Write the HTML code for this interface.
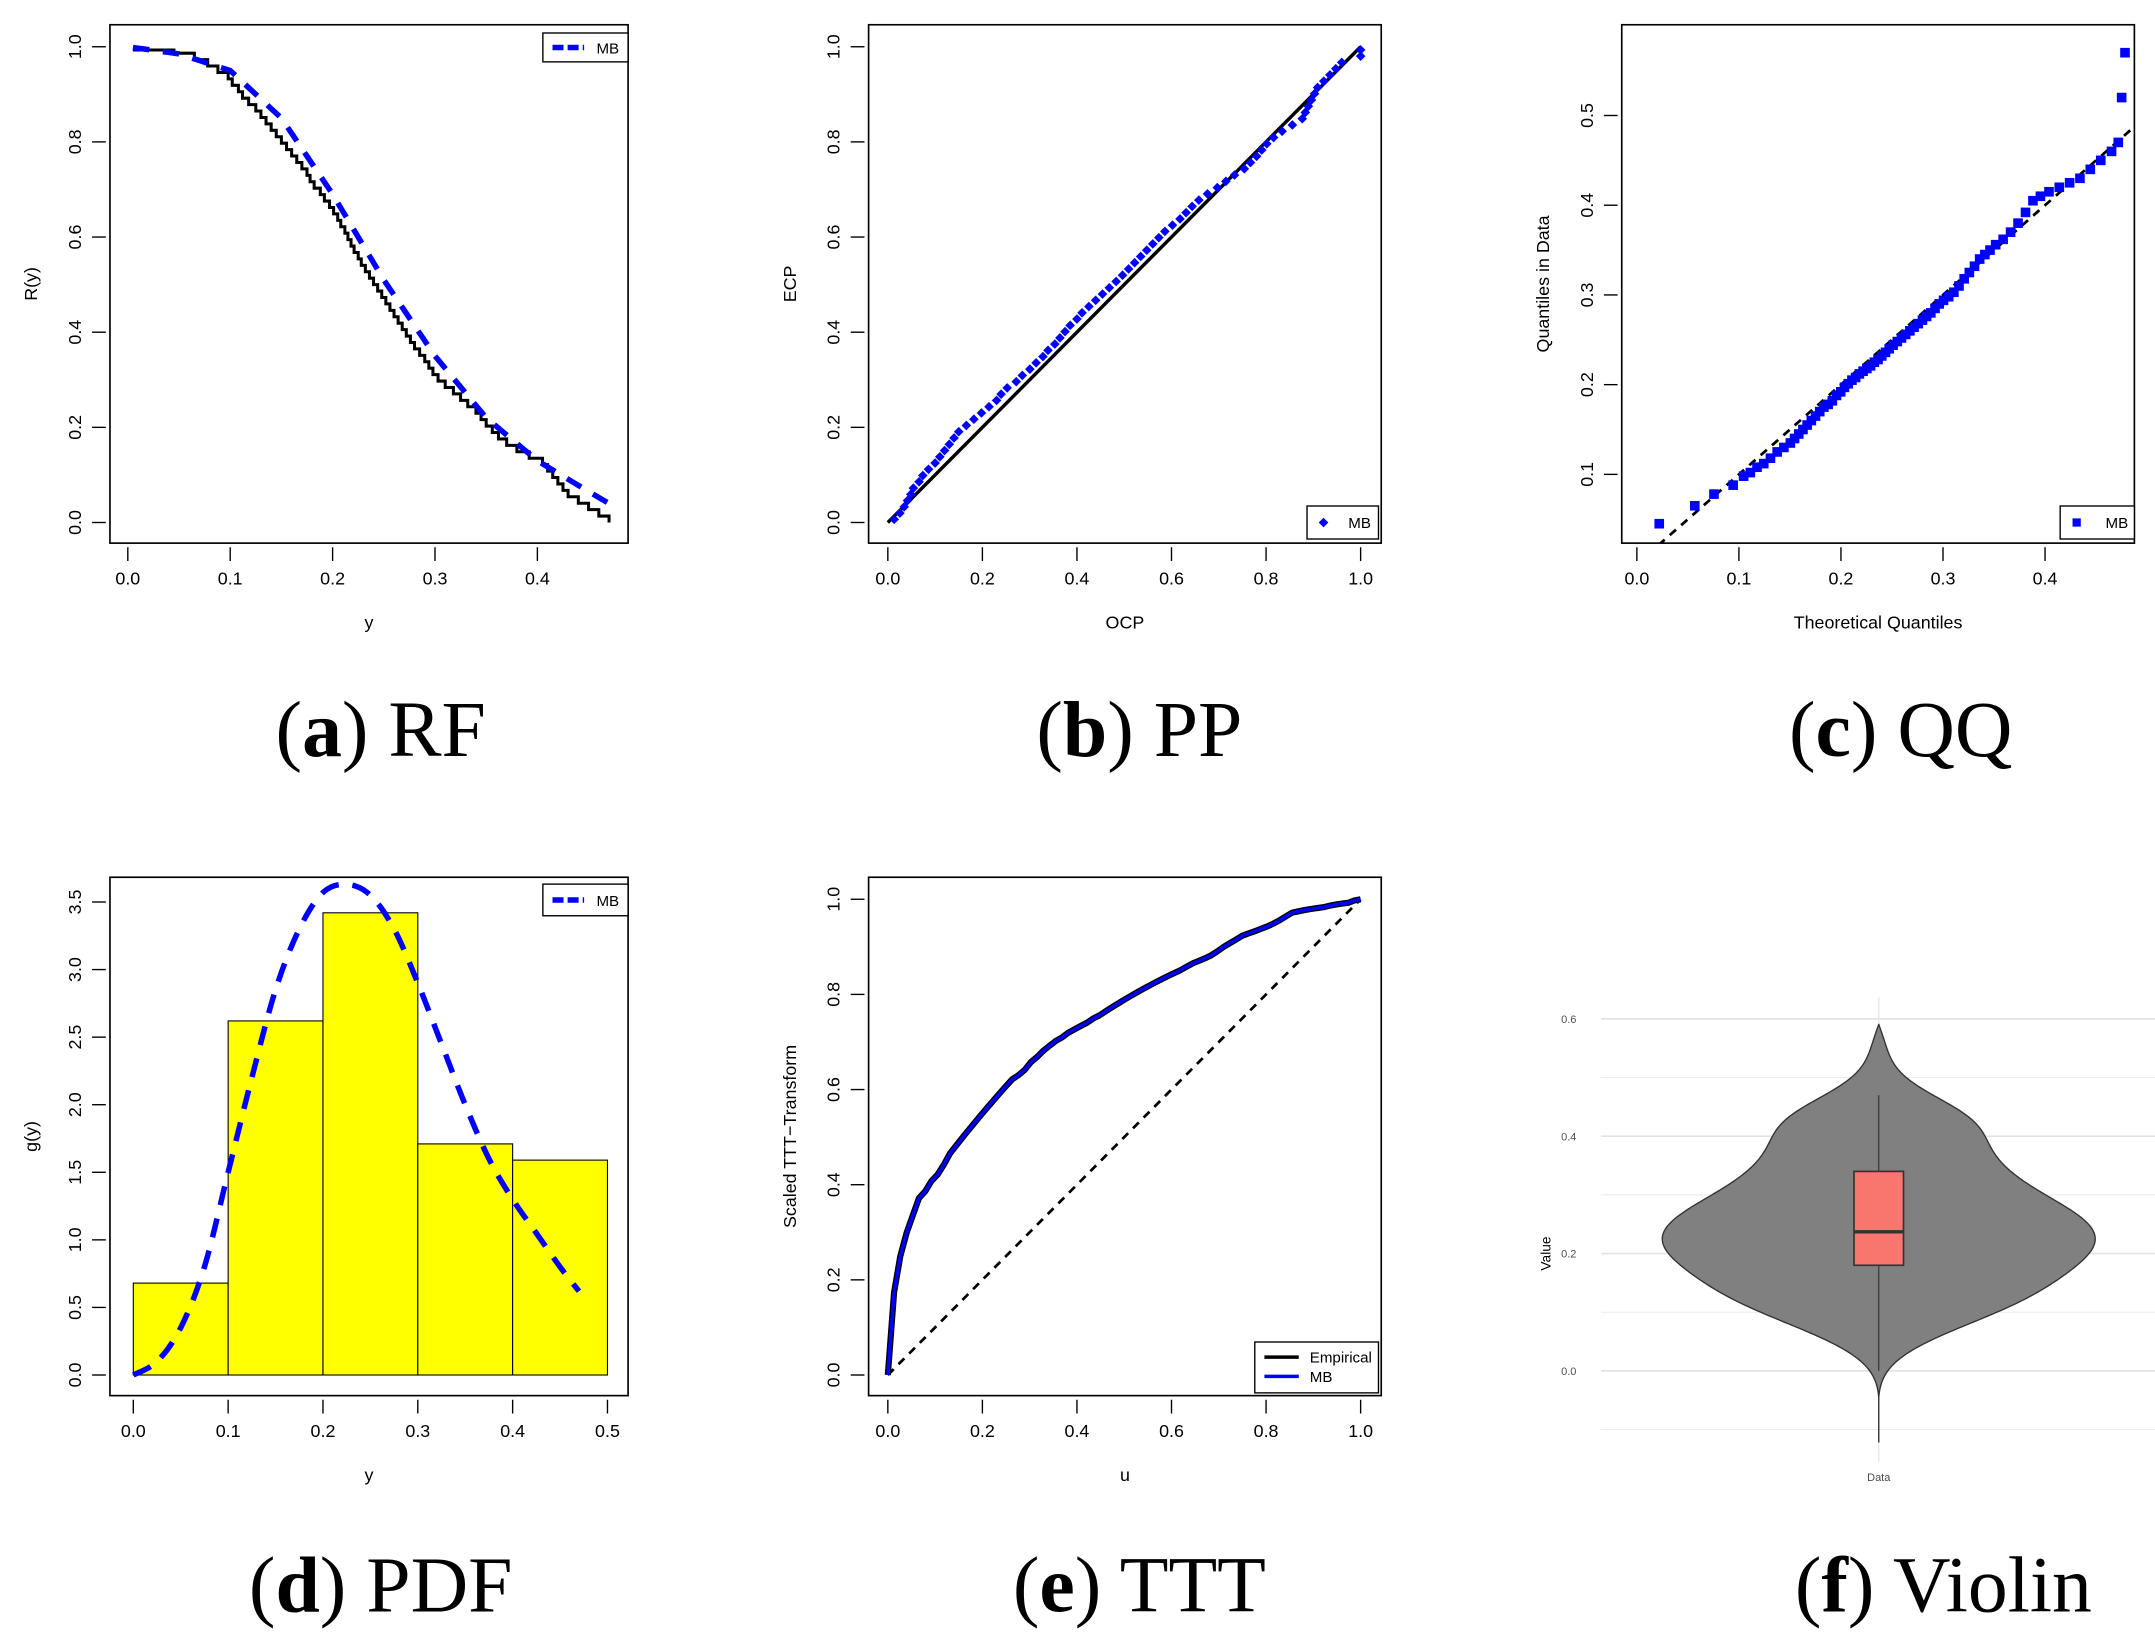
<!DOCTYPE html>
<html><head><meta charset="utf-8"><style>
html,body{margin:0;padding:0;background:#fff;}
svg{display:block;}
text{font-family:"Liberation Sans",sans-serif;}
.cap{font-family:"Liberation Serif",serif;font-size:58px;}
</style></head><body>
<svg id="s" width="2155" height="1650" viewBox="0 0 1568 1200" preserveAspectRatio="none" xmlns="http://www.w3.org/2000/svg"></svg>
<script>
// ---- data ----
const sample = [0.045,0.065,0.078,0.088,0.098,
0.102,0.108,0.112,0.118,0.125,0.13,0.135,0.14,0.145,0.15,0.155,0.16,0.165,0.17,0.175,0.178,0.182,0.188,0.192,0.197,
0.201,0.205,0.208,0.212,0.215,0.218,0.221,0.225,0.228,0.232,0.236,0.24,0.244,0.248,0.252,0.256,0.26,0.264,0.268,0.272,0.276,0.28,0.285,0.29,0.294,0.298,
0.303,0.31,0.318,0.325,0.332,0.34,0.345,0.35,0.356,0.362,0.37,0.38,0.392,
0.405,0.41,0.415,0.42,0.425,0.43,0.44,0.45,0.46,0.47,0.52,0.57];
const rfMaxY = 0.47;
const modelX = [0,0.05,0.1,0.15,0.2,0.25,0.3,0.35,0.4,0.45,0.47,0.48];
const modelR = [1,0.985,0.95,0.85,0.69,0.51,0.35,0.22,0.13,0.065,0.04,0.0];
const pdfX = [0,0.025,0.05,0.075,0.1,0.125,0.15,0.175,0.2,0.225,0.25,0.275,0.3,0.325,0.35,0.375,0.4,0.425,0.45,0.47];
const pdfY = [0,0.1,0.35,0.8,1.5,2.2,2.85,3.3,3.57,3.63,3.55,3.3,2.9,2.45,2.0,1.6,1.3,1.05,0.8,0.62];
const histEdges = [0,0.1,0.2,0.3,0.4,0.5];
const histDens = [0.68,2.62,3.42,1.71,1.59];
const boxStats = [0.0,0.18,0.237,0.34,0.47]; // whisker-lo, q1, median, q3, whisker-hi
const xTicksA=[0,0.1,0.2,0.3,0.4], yTicksA=[0,0.2,0.4,0.6,0.8,1.0];
const ticks01=[0,0.2,0.4,0.6,0.8,1.0];
const yTicksC=[0.1,0.2,0.3,0.4,0.5];
const xTicksD=[0,0.1,0.2,0.3,0.4,0.5], yTicksD=[0,0.5,1,1.5,2,2.5,3,3.5];
const yTicksF=[0,0.2,0.4,0.6];

const S=document.getElementById('s');const NS='http://www.w3.org/2000/svg';
function el(t,a,p){const e=document.createElementNS(NS,t);for(const k in a)e.setAttribute(k,a[k]);(p||S).appendChild(e);return e;}
function txt(s,a,p){const e=el('text',a,p);e.textContent=s;return e;}
function lin(x0,x1,p0,p1){return v=>p0+(v-x0)/(x1-x0)*(p1-p0);}
function interp(xs,ys,v){if(v<=xs[0])return ys[0];for(let i=1;i<xs.length;i++)if(v<=xs[i])return ys[i-1]+(ys[i]-ys[i-1])*(v-xs[i-1])/(xs[i]-xs[i-1]);return ys[ys.length-1];}
const sorted=[...sample].sort((a,b)=>a-b);const n=sorted.length;
const modelF=v=>1-interp(modelX,modelR,v);
function modelQ(p){return interp(modelX.map(x=>modelF(x)),modelX,p);}

function panel(name,bx0,by0,bx1,by1,xt,yt,X,Y,xlab,ylab,fmt,cap,capx,capy,letter){
  const g=el('g',{});
  
  
  const cp=el('clipPath',{id:'c'+name},g);el('rect',{x:bx0,y:by0,width:bx1-bx0,height:by1-by0},cp);
  el('rect',{x:bx0,y:by0,width:bx1-bx0,height:by1-by0,fill:'none',stroke:'#000','stroke-width':1.2},g);
  xt.forEach(v=>{el('line',{x1:X(v),x2:X(v),y1:by1+3,y2:by1+13,stroke:'#000'},g);const t=txt(fmt(v),{x:X(v),y:by1+30,'text-anchor':'middle','font-size':13},g);});
  yt.forEach(v=>{el('line',{x1:bx0-3,x2:bx0-13,y1:Y(v),y2:Y(v),stroke:'#000'},g);const t=txt(fmt(v),{x:0,y:0,transform:`translate(${bx0-21},${Y(v)}) rotate(-90)`,'text-anchor':'middle','font-size':13},g);});
  const xl=txt(xlab,{x:(bx0+bx1)/2,y:by1+62,'text-anchor':'middle','font-size':13},g);
  
  const yl=txt(ylab,{x:0,y:0,transform:`translate(${bx0-53},${(by0+by1)/2}) rotate(-90)`,'text-anchor':'middle','font-size':13},g);
  
  const c=el('text',{x:capx,y:capy,'text-anchor':'middle',class:'cap'});
  
  c.innerHTML='(<tspan font-weight="bold">'+letter+'</tspan>) '+cap;
  const inner=el('g',{'clip-path':`url(#c${name})`},g);
  return inner;
}
const f1=v=>v.toFixed(1);
function path(pts){return pts.map((p,i)=>(i?'L':'M')+p[0].toFixed(2)+','+p[1].toFixed(2)).join('');}
function smooth(pts){let d='M'+pts[0][0]+','+pts[0][1];for(let i=0;i<pts.length-1;i++){const p0=pts[Math.max(i-1,0)],p1=pts[i],p2=pts[i+1],p3=pts[Math.min(i+2,pts.length-1)];
d+=`C${p1[0]+(p2[0]-p0[0])/6},${p1[1]+(p2[1]-p0[1])/6} ${p2[0]-(p3[0]-p1[0])/6},${p2[1]-(p3[1]-p1[1])/6} ${p2[0]},${p2[1]}`;}return d;}
function legendLine(x0,y0,x1,y1){
  const g=el('g',{});
  
  el('rect',{x:x0,y:y0,width:x1-x0,height:y1-y0,fill:'#fff',stroke:'#000'},g);
  return g;
}

// (a) RF
{const X=lin(0,0.4,93,391),Y=lin(0,1,380,34);
const g=panel('rf-panel',80,18,457,395,xTicksA,yTicksA,X,Y,'y','R(y)',f1,'RF',277,550,'a');
const rs=sorted.filter(v=>v<=rfMaxY);const m2=rs.length;
let r=1-0.5/m2;let pts=[[X(0.005),Y(r)]];
rs.forEach((v,i)=>{pts.push([X(v),Y(r)]);r=(i+1===m2)?0:1-(i+1)/m2;pts.push([X(v),Y(r)]);});
const e=el('path',{d:path(pts),fill:'none',stroke:'#000','stroke-width':2.2},g);

const mp=[];for(let v=0.005;v<=0.4701;v+=0.005)mp.push([X(v),Y(interp(modelX,modelR,v))]);
const m=el('path',{d:path(mp),fill:'none',stroke:'#0000ff','stroke-width':4,'stroke-dasharray':'12,10'},g);

const lg=legendLine(395,24,457,45);el('line',{x1:402,x2:425,y1:34.5,y2:34.5,stroke:'#00f','stroke-width':4,'stroke-dasharray':'8,3'},lg);txt('MB',{x:434,y:39,'font-size':11},lg);}

// (b) PP
{const X=lin(0,1,646,990),Y=lin(0,1,380,34);
const g=panel('pp-panel',632,18,1005,395,ticks01,ticks01,X,Y,'OCP','ECP',f1,'PP',829,550,'b');
el('line',{x1:X(0),y1:Y(0),x2:X(1),y2:Y(1),stroke:'#000','stroke-width':2.5},g);
sorted.forEach((v,i)=>{const px=X(modelF(v)),py=Y((i+0.5)/n);const d=el('path',{d:`M${px},${py-3.5}L${px+3.5},${py}L${px},${py+3.5}L${px-3.5},${py}Z`,fill:'#00f'},g);
});
const lg=legendLine(951,368,1003,392);el('path',{d:'M963,376.5L966.5,380L963,383.5L959.5,380Z',fill:'#00f'},lg);txt('MB',{x:981,y:384,'font-size':11},lg);}

// (c) QQ
{const X=lin(0,0.4,1191,1488),Y=lin(0.1,0.5,345,84);
const g=panel('qq-panel',1180,18,1553,395,xTicksA,yTicksC,X,Y,'Theoretical Quantiles','Quantiles in Data',f1,'QQ',1383,550,'c');
el('line',{x1:X(0.01),y1:Y(0.01),x2:X(0.5),y2:Y(0.5),stroke:'#000','stroke-width':2,'stroke-dasharray':'6,5'},g);
sorted.forEach((v,i)=>{const px=X(modelQ((i+0.5)/n)),py=Y(v);const d=el('rect',{x:px-3.5,y:py-3.5,width:7,height:7,fill:'#00f'},g);
});
const lg=legendLine(1499,368,1553,392);el('rect',{x:1508,y:377,width:6,height:6,fill:'#00f'},lg);txt('MB',{x:1532,y:384,'font-size':11},lg);}

// (d) PDF
{const X=lin(0,0.5,97,442),Y=lin(0,3.5,1000,656);
const g=panel('pdf-panel',80,638,457,1015,xTicksD,yTicksD,X,Y,'y','g(y)',f1,'PDF',277,1172,'d');
histDens.forEach((d,i)=>{const r=el('rect',{x:X(histEdges[i]),y:Y(d),width:X(histEdges[i+1])-X(histEdges[i]),height:Y(0)-Y(d),fill:'#ffff00',stroke:'#000','stroke-width':0.8},g);
});
const mp=pdfX.map((x,i)=>[X(x),Y(pdfY[i])]);
const m=el('path',{d:smooth(mp),fill:'none',stroke:'#0000ff','stroke-width':4,'stroke-dasharray':'14,10','stroke-linejoin':'round'},g);

const lg=legendLine(395,643,457,666);el('line',{x1:402,x2:425,y1:654.5,y2:654.5,stroke:'#00f','stroke-width':4,'stroke-dasharray':'8,3'},lg);txt('MB',{x:434,y:659,'font-size':11},lg);}

// (e) TTT
{const X=lin(0,1,646,990),Y=lin(0,1,1000,654);
const g=panel('ttt-panel',632,638,1005,1015,ticks01,ticks01,X,Y,'u','Scaled TTT\u2212Transform',f1,'TTT',829,1172,'e');
el('line',{x1:X(0),y1:Y(0),x2:X(1),y2:Y(1),stroke:'#000','stroke-width':2,'stroke-dasharray':'6,5'},g);
const tot=sorted.reduce((a,b)=>a+b,0);let cum=0;const pts=[[X(0),Y(0)]];
sorted.forEach((v,i)=>{cum+=v;const t=(cum+(n-i-1)*v)/tot;pts.push([X((i+1)/n),Y(t)]);});
const e=el('path',{d:path(pts),fill:'none',stroke:'#000','stroke-width':4.5},g);
const b=el('path',{d:path(pts),fill:'none',stroke:'#0000ff','stroke-width':2.5},g);
const lg=legendLine(913,976,1003,1013);el('line',{x1:920,x2:945,y1:987,y2:987,stroke:'#000','stroke-width':2.5},lg);txt('Empirical',{x:953,y:991,'font-size':11},lg);
el('line',{x1:920,x2:945,y1:1001,y2:1001,stroke:'#00f','stroke-width':2.5},lg);txt('MB',{x:953,y:1005,'font-size':11},lg);}

// (f) Violin
{const Y=lin(0,0.6,997,741);const cx=1367;
const g=el('g',{});
[-0.1,0.1,0.3,0.5].forEach(v=>el('line',{x1:1165,x2:1568,y1:Y(v),y2:Y(v),stroke:'#ebebeb','stroke-width':0.7},g));
yTicksF.forEach(v=>{el('line',{x1:1165,x2:1568,y1:Y(v),y2:Y(v),stroke:'#e4e4e4','stroke-width':1.2},g);
const t=txt(v.toFixed(1),{x:1147,y:Y(v)+3,'text-anchor':'end','font-size':8,fill:'#4d4d4d'},g);});
el('line',{x1:cx,x2:cx,y1:725,y2:1063,stroke:'#ebebeb','stroke-width':1.2},g);
const bw=0.04;const dens=y=>sample.reduce((a,s)=>a+Math.exp(-0.5*((y-s)/bw)**2),0);
const ys=[];for(let y=-0.122;y<=0.5925;y+=0.0025)ys.push(y);
const ds=ys.map(dens);const mx=Math.max(...ds);const W=161;const d0=ds[0],d1=ds[ds.length-1];
const wd=(i)=>{let d=ds[i];const t=(ys[i]+0.122)/(0.5925+0.122);d=d-(d0*(1-t)+d1*t);return Math.max(d,0)/mx*W;};
const R=ys.map((y,i)=>[cx+wd(i),Y(y)]),L=ys.map((y,i)=>[cx-wd(i),Y(y)]).reverse();
const v=el('path',{d:path(R.concat(L))+'Z',fill:'#808080',stroke:'#333','stroke-width':1},g);
el('line',{x1:cx,x2:cx,y1:Y(boxStats[4]),y2:Y(boxStats[0]),stroke:'#333','stroke-width':0.8},g);
const bx=el('rect',{x:cx-18,y:Y(boxStats[3]),width:36,height:Y(boxStats[1])-Y(boxStats[3]),fill:'#f8766d',stroke:'#333','stroke-width':1.2},g);
el('line',{x1:cx-18,x2:cx+18,y1:Y(boxStats[2]),y2:Y(boxStats[2]),stroke:'#333','stroke-width':2.5},g);
txt('Data',{x:cx,y:1077,'text-anchor':'middle','font-size':8,fill:'#4d4d4d'},g);
txt('Value',{x:0,y:0,transform:`translate(1128,${Y(0.2)}) rotate(-90)`,'text-anchor':'middle','font-size':10},g);
const c=el('text',{x:1414,y:1172,'text-anchor':'middle',class:'cap'});
c.innerHTML='(<tspan font-weight="bold">f</tspan>) Violin';}
</script>
</body></html>
